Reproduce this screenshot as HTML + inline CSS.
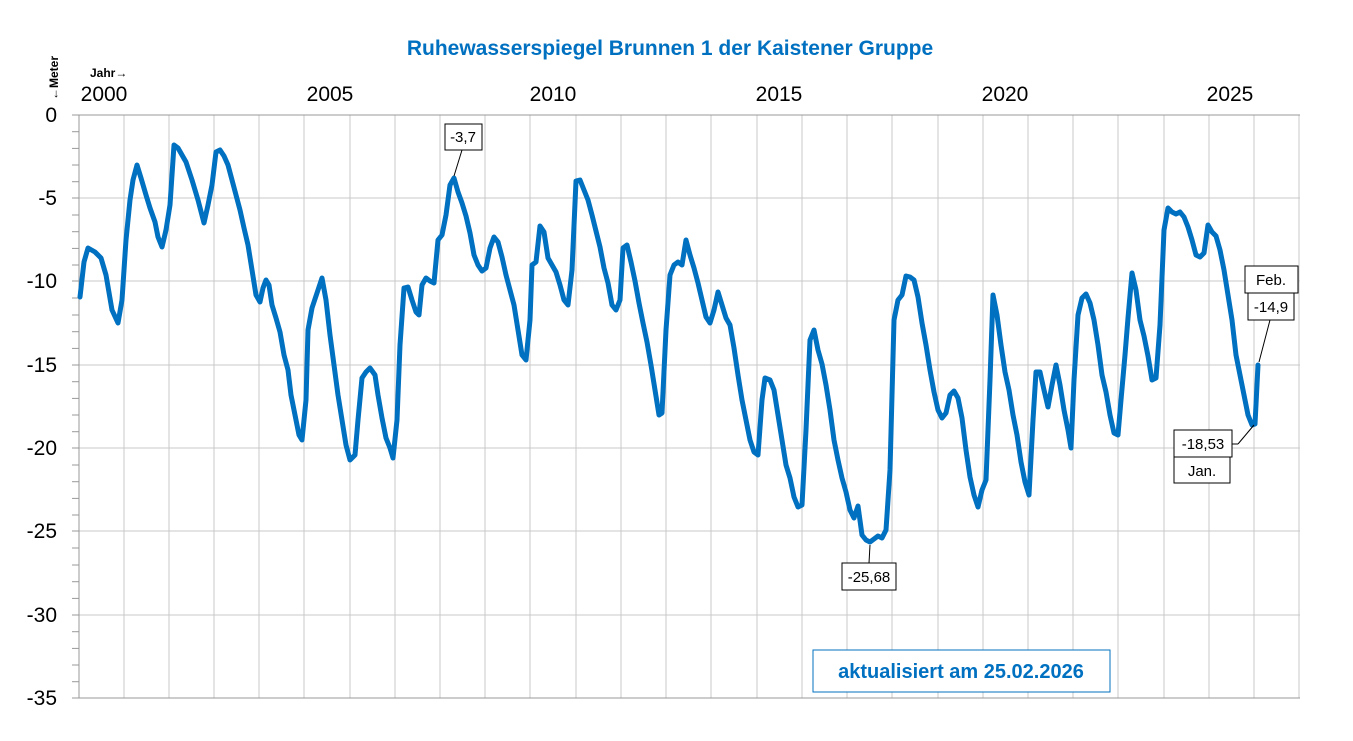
<!DOCTYPE html>
<html><head><meta charset="utf-8"><style>
body{margin:0;background:#fff}
svg{display:block;font-family:"Liberation Sans",sans-serif}
</style></head><body>
<svg width="1353" height="741" viewBox="0 0 1353 741" xmlns="http://www.w3.org/2000/svg">
<rect width="1353" height="741" fill="#fff"/>
<text x="670" y="55" text-anchor="middle" font-size="21" font-weight="bold" fill="#0070C0">Ruhewasserspiegel Brunnen 1 der Kaistener Gruppe</text>
<g stroke="#c8c8c8" stroke-width="1">
<line x1="79" y1="198" x2="1300" y2="198"/><line x1="79" y1="281" x2="1300" y2="281"/><line x1="79" y1="365" x2="1300" y2="365"/><line x1="79" y1="448" x2="1300" y2="448"/><line x1="79" y1="531" x2="1300" y2="531"/><line x1="79" y1="615" x2="1300" y2="615"/>
<line x1="124" y1="115" x2="124" y2="698"/><line x1="169" y1="115" x2="169" y2="698"/><line x1="214" y1="115" x2="214" y2="698"/><line x1="259" y1="115" x2="259" y2="698"/><line x1="304" y1="115" x2="304" y2="698"/><line x1="350" y1="115" x2="350" y2="698"/><line x1="395" y1="115" x2="395" y2="698"/><line x1="440" y1="115" x2="440" y2="698"/><line x1="485" y1="115" x2="485" y2="698"/><line x1="530" y1="115" x2="530" y2="698"/><line x1="576" y1="115" x2="576" y2="698"/><line x1="621" y1="115" x2="621" y2="698"/><line x1="666" y1="115" x2="666" y2="698"/><line x1="711" y1="115" x2="711" y2="698"/><line x1="757" y1="115" x2="757" y2="698"/><line x1="802" y1="115" x2="802" y2="698"/><line x1="847" y1="115" x2="847" y2="698"/><line x1="892" y1="115" x2="892" y2="698"/><line x1="938" y1="115" x2="938" y2="698"/><line x1="983" y1="115" x2="983" y2="698"/><line x1="1028" y1="115" x2="1028" y2="698"/><line x1="1073" y1="115" x2="1073" y2="698"/><line x1="1118" y1="115" x2="1118" y2="698"/><line x1="1164" y1="115" x2="1164" y2="698"/><line x1="1209" y1="115" x2="1209" y2="698"/><line x1="1254" y1="115" x2="1254" y2="698"/><line x1="1299" y1="115" x2="1299" y2="698"/>
</g>
<g stroke="#999" stroke-width="1">
<line x1="79" y1="115" x2="1300" y2="115"/>
<line x1="79" y1="115" x2="79" y2="698"/>
<line x1="79" y1="698" x2="1300" y2="698"/>
<line x1="72" y1="115" x2="79" y2="115"/><line x1="72" y1="131.7" x2="79" y2="131.7"/><line x1="72" y1="148.4" x2="79" y2="148.4"/><line x1="72" y1="165" x2="79" y2="165"/><line x1="72" y1="181.7" x2="79" y2="181.7"/><line x1="72" y1="198" x2="79" y2="198"/>
<line x1="72" y1="215" x2="79" y2="215"/><line x1="72" y1="231.7" x2="79" y2="231.7"/><line x1="72" y1="248.4" x2="79" y2="248.4"/><line x1="72" y1="265" x2="79" y2="265"/><line x1="72" y1="281" x2="79" y2="281"/>
<line x1="72" y1="298" x2="79" y2="298"/><line x1="72" y1="315" x2="79" y2="315"/><line x1="72" y1="331.7" x2="79" y2="331.7"/><line x1="72" y1="348.4" x2="79" y2="348.4"/><line x1="72" y1="365" x2="79" y2="365"/>
<line x1="72" y1="381.7" x2="79" y2="381.7"/><line x1="72" y1="398.4" x2="79" y2="398.4"/><line x1="72" y1="415" x2="79" y2="415"/><line x1="72" y1="431.7" x2="79" y2="431.7"/><line x1="72" y1="448" x2="79" y2="448"/>
<line x1="72" y1="465" x2="79" y2="465"/><line x1="72" y1="481.7" x2="79" y2="481.7"/><line x1="72" y1="498.4" x2="79" y2="498.4"/><line x1="72" y1="515" x2="79" y2="515"/><line x1="72" y1="531" x2="79" y2="531"/>
<line x1="72" y1="548" x2="79" y2="548"/><line x1="72" y1="565" x2="79" y2="565"/><line x1="72" y1="581.7" x2="79" y2="581.7"/><line x1="72" y1="598.4" x2="79" y2="598.4"/><line x1="72" y1="615" x2="79" y2="615"/>
<line x1="72" y1="631.7" x2="79" y2="631.7"/><line x1="72" y1="648.4" x2="79" y2="648.4"/><line x1="72" y1="665" x2="79" y2="665"/><line x1="72" y1="681.7" x2="79" y2="681.7"/><line x1="72" y1="698" x2="79" y2="698"/>
</g>
<g font-size="21" fill="#000" text-anchor="end">
<text x="57" y="122">0</text><text x="57" y="205">-5</text><text x="57" y="288">-10</text><text x="57" y="372">-15</text><text x="57" y="455">-20</text><text x="57" y="538">-25</text><text x="57" y="622">-30</text><text x="57" y="705">-35</text>
</g>
<g font-size="21" fill="#000" text-anchor="middle">
<text x="104" y="101">2000</text><text x="330" y="101">2005</text><text x="553" y="101">2010</text><text x="779" y="101">2015</text><text x="1005" y="101">2020</text><text x="1230" y="101">2025</text>
</g>
<text x="90" y="77" font-size="12" font-weight="bold">Jahr→</text>
<text transform="translate(58,100) rotate(-90)" font-size="12" font-weight="bold">←Meter</text>
<polyline fill="none" stroke="#0070C0" stroke-width="5" stroke-linejoin="round" stroke-linecap="round" points="80,297 84,262 88,248 95,252 101,258 106,275 112,310 118,323 122,300 126,240 130,200 133,180 137,165 141,178 146,195 150,208 155,222 158,237 162,247 166,230 170,205 174,145 178,148 182,155 186,162 192,180 198,200 204,223 208,205 212,185 216,152 220,150 224,156 228,165 232,180 236,195 240,210 244,228 248,245 252,270 256,295 260,302 263,288 266,280 269,285 272,305 276,318 280,332 284,355 288,370 291,395 295,415 299,435 302,440 306,400 308,330 312,308 318,290 322,278 326,300 330,335 334,365 338,395 342,420 346,445 350,460 355,455 358,420 362,378 366,372 370,368 375,375 378,395 382,418 386,438 390,448 393,458 397,420 400,345 404,288 408,287 412,300 416,312 419,315 422,285 426,278 430,281 434,283 438,240 442,235 446,215 450,185 454,178 458,192 462,203 466,216 470,233 474,255 478,265 482,271 486,268 490,248 494,237 498,242 502,257 506,275 510,290 514,305 518,330 522,355 526,360 530,320 532,265 536,262 540,226 544,232 548,258 552,265 556,272 560,285 564,300 568,305 572,270 576,181 580,180 584,190 588,200 592,215 596,231 600,247 604,268 608,283 612,305 616,310 620,300 623,248 627,245 631,262 635,281 639,303 643,323 647,342 651,365 655,390 659,415 662,413 666,330 670,275 674,265 678,262 682,265 686,240 690,255 694,268 698,283 702,300 706,317 710,323 714,310 718,292 722,305 726,318 730,325 734,348 738,375 742,400 746,420 750,440 754,452 758,455 762,400 765,378 770,380 774,390 778,415 782,440 786,465 790,478 794,497 798,507 802,505 806,430 810,340 814,330 818,350 822,364 826,385 830,410 834,440 838,460 842,478 846,492 850,510 854,518 858,506 862,535 866,540 870,542 874,539 878,536 882,538 886,530 890,470 894,320 898,300 902,295 906,276 910,277 914,280 918,297 922,323 926,345 930,370 934,392 938,410 942,418 946,413 950,395 954,391 958,398 962,418 966,450 970,477 974,495 978,507 982,490 986,480 990,380 993,295 997,315 1001,345 1005,372 1009,390 1013,415 1017,435 1021,462 1025,482 1029,495 1033,420 1036,372 1040,372 1044,390 1048,407 1052,385 1056,365 1060,385 1064,410 1068,430 1071,448 1074,380 1078,315 1082,298 1086,294 1090,303 1094,320 1098,345 1102,375 1106,392 1110,415 1114,433 1118,435 1121,400 1125,355 1128,318 1132,273 1136,290 1140,320 1144,336 1148,356 1152,380 1156,378 1160,325 1164,230 1168,208 1172,212 1176,214 1180,212 1184,217 1188,227 1192,240 1196,255 1200,257 1204,253 1208,225 1212,232 1216,236 1220,250 1224,270 1228,295 1232,320 1236,355 1240,375 1244,395 1248,415 1252,425 1255,424 1258,365"/>
<g stroke="#000" stroke-width="1" fill="#fff">
<line x1="454" y1="176" x2="462" y2="150"/>
<rect x="445" y="124" width="37" height="26"/>
<line x1="870" y1="545" x2="869" y2="563"/>
<rect x="842" y="563" width="54" height="27"/>
<line x1="1259" y1="362" x2="1270" y2="320"/>
<rect x="1245" y="266" width="53" height="27"/>
<rect x="1248" y="293" width="46" height="27"/>
<line x1="1254" y1="425" x2="1238" y2="444"/>
<line x1="1238" y1="444" x2="1232" y2="444"/>
<rect x="1174" y="430" width="58" height="27"/>
<rect x="1174" y="457" width="56" height="26"/>
</g>
<g font-size="15" fill="#000" text-anchor="middle">
<text x="463" y="142">-3,7</text>
<text x="869" y="582">-25,68</text>
<text x="1271" y="285">Feb.</text>
<text x="1271" y="312">-14,9</text>
<text x="1203" y="449">-18,53</text>
<text x="1202" y="476">Jan.</text>
</g>
<rect x="813" y="650" width="297" height="42" fill="#fff" stroke="#0070C0" stroke-width="1"/>
<text x="961" y="678" text-anchor="middle" font-size="20" font-weight="bold" fill="#0070C0">aktualisiert am 25.02.2026</text>
</svg>
</body></html>
